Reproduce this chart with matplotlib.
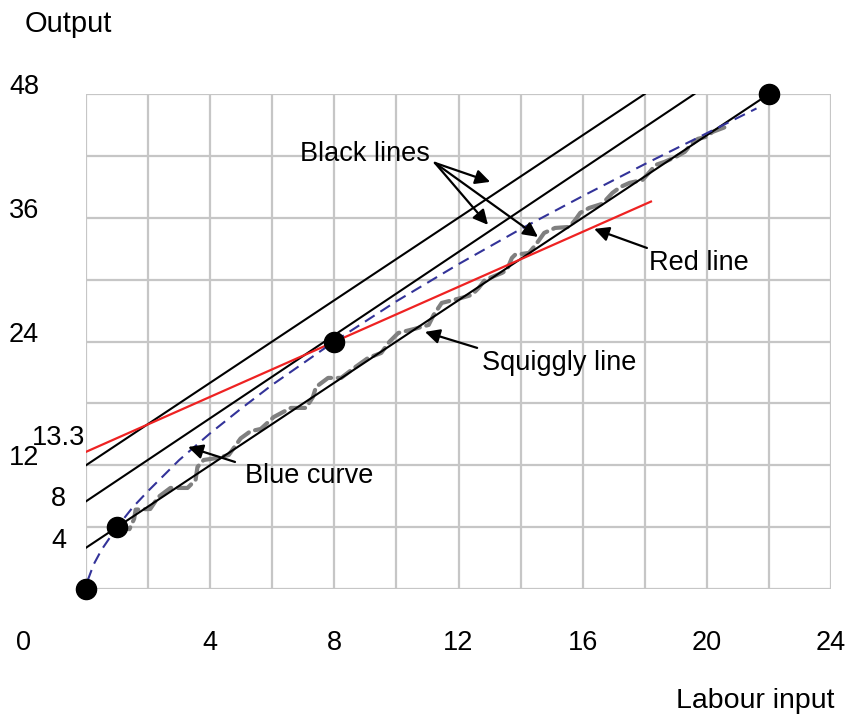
import matplotlib
matplotlib.use("Agg")
import matplotlib.pyplot as plt

plt.rcParams['font.family'] = ['Liberation Sans', 'DejaVu Sans']

# black lines: intercept 12, 8, 4 with slope 2
black_top_x = [0, 18]
black_top_y = [12, 48]
black_mid_x = [0, 19.6]
black_mid_y = [8.5, 48]
black_low_x = [0, 22]
black_low_y = [4, 48]

# red line through (8, 24)
red_x = [0, 18.2]
red_y = [13.3, 37.57]

# blue dashed curve
blue_x = [0.05, 0.25, 0.5, 1, 1.5, 2, 3, 4, 5, 6, 8, 10, 12, 14, 16, 18, 20, 21.6]
blue_y = [0.8, 2.4, 3.8, 6.0, 7.9, 9.5, 12.5, 15.1, 17.5, 19.8, 24.0, 27.9,
          31.5, 34.9, 38.1, 41.2, 44.2, 46.6]

# grey squiggly line
squig_x = [1.0, 1.4, 1.55, 1.6, 2.07, 2.33, 2.72, 3.27, 3.53, 3.59, 3.79, 4.24,
           4.6, 4.98, 5.3, 5.63, 6.05, 6.6, 7.09, 7.31, 7.41, 7.8, 8.22, 8.64,
           9.09, 9.51, 9.77, 10.06, 10.58, 11.04, 11.2, 11.46, 12.1, 12.43,
           12.65, 12.85, 13.4, 13.56, 13.72, 13.82, 14.27, 14.43, 14.6, 14.76,
           15.11, 15.57, 15.76, 15.92, 16.21, 16.63, 16.96, 17.22, 17.51,
           17.93, 18.16, 18.35, 18.64, 19.0, 19.29, 19.48, 19.71, 19.97,
           20.19, 20.61]
squig_y = [6.0, 5.8, 6.8, 7.7, 7.76, 8.92, 9.8, 9.8, 10.57, 11.83, 12.51, 12.71,
           13.0, 14.6, 15.3, 15.52, 16.68, 17.56, 17.56, 18.62, 19.59, 20.47,
           20.47, 21.44, 22.41, 22.89, 23.96, 24.83, 25.22, 25.61, 26.58,
           27.74, 28.23, 28.52, 29.19, 29.97, 30.65, 30.94, 32.1, 32.4, 32.59,
           33.17, 33.85, 34.53, 35.01, 35.11, 35.79, 36.47, 36.95, 37.35,
           38.41, 38.99, 39.38, 39.67, 40.45, 41.12, 41.42, 41.9, 42.39,
           43.07, 43.65, 43.84, 44.33, 44.81]

# dots
dot_x = [0, 1, 8, 22]
dot_y = [0, 6, 24, 48]

xtick_vals = [0, 4, 8, 12, 16, 20, 24]
ytick_vals = [48, 36, 24, 12, 13.3, 8, 4]

fig = plt.figure(figsize=(8.48, 7.19), dpi=100)
ax = fig.add_axes([86 / 848, 1 - 589 / 719, 745 / 848, 495 / 719])
ax.set_xlim(0, 24)
ax.set_ylim(0, 48)
for s in ax.spines.values():
    s.set_visible(False)
ax.set_xticks([])
ax.set_yticks([])

grid_c = '#c6c6c6'
for gx in range(0, 25, 2):
    ax.axvline(gx, color=grid_c, lw=1.6, zorder=0)
for gy in range(0, 49, 6):
    ax.axhline(gy, color=grid_c, lw=1.6, zorder=0)

ax.plot(squig_x, squig_y, color='#808080', lw=3, dashes=(3.5, 1.6), zorder=2,
        solid_capstyle='round', dash_capstyle='round')
for lx, ly in [(black_top_x, black_top_y), (black_mid_x, black_mid_y), (black_low_x, black_low_y)]:
    ax.plot(lx, ly, color='black', lw=1.5, zorder=3)
ax.plot(red_x, red_y, color='#ee2222', lw=1.6, zorder=3)
ax.plot(blue_x, blue_y, color='#333399', lw=1.5, dashes=(5.5, 3.3), zorder=3)
ax.plot(dot_x, dot_y, 'o', color='black', ms=14.5, clip_on=False, zorder=5)

fs = 19.5
# y axis numbers, two columns
for v in ytick_vals:
    col = -0.083 if v in (48, 36, 24, 12) else -0.037
    yy = 14.0 if v == 13.3 else v
    ax.text(col, yy, f"{v:g}", transform=ax.get_yaxis_transform(),
            ha='center', va='baseline', fontsize=fs)
for v in xtick_vals:
    xx = -2.0 if v == 0 else v
    ax.text(xx, -5.9, f"{v:g}", ha='center', va='baseline', fontsize=fs)

fig.text(25 / 848, 1 - 32 / 719, "Output", ha='left', va='baseline', fontsize=21)
fig.text(834 / 848, 1 - 708 / 719, "Labour input", ha='right', va='baseline', fontsize=20.5)

ax.text(6.89, 41.5, "Black lines", ha='left', va='baseline', fontsize=fs)
ax.text(18.14, 30.94, "Red line", ha='left', va='baseline', fontsize=fs)
ax.text(12.76, 21.24, "Squiggly line", ha='left', va='baseline', fontsize=fs)
ax.text(5.12, 10.28, "Blue curve", ha='left', va='baseline', fontsize=fs)

arrow = dict(arrowstyle='-|>', color='black', lw=1.6, mutation_scale=22, shrinkA=0, shrinkB=0)
for tip in [(13.02, 39.48), (12.95, 35.31), (14.56, 34.14)]:
    ax.annotate("", xy=tip, xytext=(11.24, 41.32), arrowprops=arrow, zorder=6)
ax.annotate("", xy=(16.37, 34.92), xytext=(18.07, 33.07), arrowprops=arrow, zorder=6)
ax.annotate("", xy=(10.92, 24.93), xytext=(12.6, 23.38), arrowprops=arrow, zorder=6)
ax.annotate("", xy=(3.29, 13.77), xytext=(4.8, 12.32), arrowprops=arrow, zorder=6)

fig.savefig("out.png", dpi=100)
